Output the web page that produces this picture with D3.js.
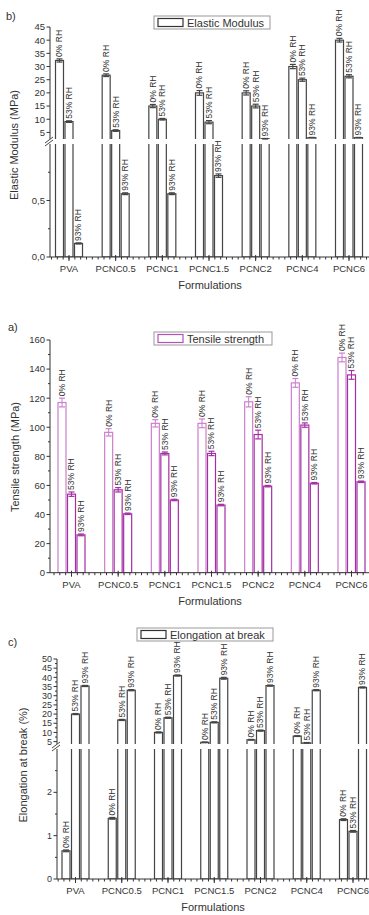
<!DOCTYPE html>
<html>
<head>
<meta charset="utf-8">
<script src="https://cdn.jsdelivr.net/npm/d3@7"></script>
<style>
  body { margin: 0; background: #fff; }
  svg text { font-family: "Liberation Sans", Arial, sans-serif; fill: #333; }
</style>
</head>
<body>
<svg id="chart" width="369" height="915"></svg>
<script>
// categories and series
const categories = ["PVA", "PCNC0.5", "PCNC1", "PCNC1.5", "PCNC2", "PCNC4", "PCNC6"];
const rhLabels = ["0% RH", "53% RH", "93% RH"];

// b) elastic modulus (MPa)
const modulus0 = [32.3, 26.7, 15.0, 20.0, 20.0, 30.0, 40.0];
const modulus53 = [9.1, 5.7, 10.0, 8.9, 15.0, 25.0, 26.3];
const modulus93 = [0.12, 0.56, 0.56, 0.72, 2.6, 3.0, 3.0];
const modulusErr0 = [0.6, 0.5, 0.6, 0.9, 0.8, 0.8, 0.7];
const modulusErr53 = [0.3, 0.3, 0.3, 0.6, 0.7, 0.6, 0.6];
const modulusErr93 = [0.005, 0.008, 0.008, 0.015, 0.1, 0.1, 0.1];

// a) tensile strength (MPa)
const tensile0 = [117, 96.5, 102.7, 102.7, 117.5, 130.5, 148];
const tensile53 = [54, 57, 82, 82, 95, 101.5, 136];
const tensile93 = [26, 40.5, 50, 46.5, 59.5, 61.5, 62.5];
const tensileErr0 = [3, 2.5, 2.5, 3, 3.5, 3, 3];
const tensileErr53 = [1.5, 1.5, 1, 1.5, 3, 1.5, 3];
const tensileErr93 = [0.6, 0.5, 0.5, 0.5, 0.5, 0.5, 0.5];

// c) elongation at break (%)
const elong0 = [0.65, 1.4, 10, 4.6, 6, 8, 1.37];
const elong53 = [20, 16.8, 18, 15.5, 11, 4.3, 1.1];
const elong93 = [35.3, 33, 41, 39.5, 35.5, 33, 34.5];
const elongErr0 = [0.02, 0.02, 0.3, 0.2, 0.2, 0.2, 0.02];
const elongErr53 = [0.3, 0.3, 0.3, 0.3, 0.3, 0.2, 0.02];
const elongErr93 = [0.3, 0.3, 0.3, 0.5, 0.3, 0.3, 0.3];

const svg = d3.select("#chart");
const rightEdge = 369;

function drawPanel(p) {
  const g = svg.append("g");
  const x = d3.scalePoint().domain(categories).range(p.xRange);
  const step = x.step();
  const bw = 8, gap = 1.5;
  const series = p.values.map((vals, s) => vals.map((v, i) => ({
    cat: categories[i], s: s, v: v, e: p.errors[s][i]
  })));
  const rows = series.flat();
  const barX = d => x(d.cat) + (d.s - 1) * (bw + gap) - bw / 2;
  const baseline = p.segments[p.segments.length - 1].range[0];

  p.segments.forEach((seg, k) => {
    const y = d3.scaleLinear().domain(seg.domain).range(seg.range);
    const top = seg.range[1], bottom = seg.range[0];
    const isBottom = k === p.segments.length - 1;
    const clipId = p.id + "clip" + k;
    g.append("clipPath").attr("id", clipId)
      .append("rect").attr("x", p.axisX).attr("y", top)
      .attr("width", rightEdge - p.axisX).attr("height", bottom - top);

    // bars, cut at the ends of the segment
    const barsG = g.append("g").attr("clip-path", "url(#" + clipId + ")");
    barsG.selectAll("rect")
      .data(rows.filter(d => d.v > seg.domain[0]))
      .enter().append("rect")
      .attr("x", barX)
      .attr("y", d => Math.max(y(d.v), top - 5))
      .attr("width", bw)
      .attr("height", d => (isBottom ? bottom : bottom + 5) - Math.max(y(d.v), top - 5))
      .attr("fill", "#fff")
      .attr("stroke", d => p.colors[d.s])
      .attr("stroke-width", p.strokeW);

    // error bars and labels for values that end inside this segment
    const inside = rows.filter(d => d.v >= seg.domain[0] && d.v <= seg.domain[1] * 1.01);
    const eb = g.append("g");
    inside.forEach(d => {
      const cx = barX(d) + bw / 2;
      const y1 = y(d.v + d.e), y2 = y(d.v - d.e);
      eb.append("line").attr("x1", cx).attr("x2", cx).attr("y1", y1).attr("y2", y2)
        .attr("stroke", p.colors[d.s]).attr("stroke-width", 1);
      [y1, y2].forEach(yy => eb.append("line")
        .attr("x1", cx - 3).attr("x2", cx + 3).attr("y1", yy).attr("y2", yy)
        .attr("stroke", p.colors[d.s]).attr("stroke-width", 1.2));
    });
    g.append("g").selectAll("text")
      .data(inside).enter().append("text")
      .attr("transform", d => "translate(" + (barX(d) + bw / 2) + "," + (y(d.v + d.e) - 2) + ") rotate(-90)")
      .attr("dy", "0.35em")
      .attr("font-size", 8.5)
      .text(d => rhLabels[d.s]);

    // y axis for this segment
    const ax = g.append("g");
    ax.append("line").attr("x1", p.axisX).attr("x2", p.axisX)
      .attr("y1", top).attr("y2", bottom).attr("stroke", "#333");
    ax.selectAll(".maj").data(seg.ticks).enter().append("line")
      .attr("x1", p.axisX - 3.5).attr("x2", p.axisX)
      .attr("y1", d => y(d)).attr("y2", d => y(d)).attr("stroke", "#333");
    ax.selectAll(".min").data(seg.minor || []).enter().append("line")
      .attr("x1", p.axisX - 2).attr("x2", p.axisX)
      .attr("y1", d => y(d)).attr("y2", d => y(d)).attr("stroke", "#333");
    ax.selectAll("text").data(seg.ticks).enter().append("text")
      .attr("x", p.axisX - 5).attr("y", d => y(d)).attr("dy", "0.35em")
      .attr("text-anchor", "end").attr("font-size", p.tickSize)
      .text(seg.format || (d => d));
  });

  // break marks
  if (p.segments.length > 1) {
    const yb = (p.segments[0].range[0] + p.segments[1].range[1]) / 2;
    [-1.5, 1.5].forEach(o => g.append("line")
      .attr("x1", p.axisX - 5).attr("x2", p.axisX + 3)
      .attr("y1", yb + o + 3).attr("y2", yb + o - 3)
      .attr("stroke", "#333").attr("stroke-width", 0.9));
  }

  // x axis
  g.append("line").attr("x1", p.axisX).attr("x2", rightEdge)
    .attr("y1", baseline).attr("y2", baseline).attr("stroke", "#333");
  const minor = d3.range(p.xRange[0] - step / 2, rightEdge, step / 8)
    .filter(v => v > p.axisX);
  g.selectAll(".xmin").data(minor).enter().append("line")
    .attr("x1", d => d).attr("x2", d => d)
    .attr("y1", baseline).attr("y2", baseline + 2.5).attr("stroke", "#333");
  g.selectAll(".xmaj").data(categories).enter().append("line")
    .attr("x1", d => x(d)).attr("x2", d => x(d))
    .attr("y1", baseline - 2).attr("y2", baseline + 4).attr("stroke", "#333");
  g.selectAll(".xlab").data(categories).enter().append("text")
    .attr("x", d => x(d)).attr("y", baseline + 15)
    .attr("text-anchor", "middle").attr("font-size", 9.5)
    .text(d => d);
  g.append("text").attr("x", p.titleX).attr("y", baseline + 32)
    .attr("text-anchor", "middle").attr("font-size", 11)
    .text("Formulations");

  // y title
  g.append("text")
    .attr("transform", "translate(" + p.yTitle[0] + "," + p.yTitle[1] + ") rotate(-90)")
    .attr("text-anchor", "middle").attr("font-size", 11)
    .text(p.yLabel);

  // panel letter
  g.append("text").attr("x", p.letter[0]).attr("y", p.letter[1])
    .attr("font-size", 11).text(p.letterText);

  // legend
  const lg = g.append("g");
  lg.append("rect").attr("x", p.legend[0]).attr("y", p.legend[1])
    .attr("width", p.legend[2]).attr("height", 13)
    .attr("fill", "#fff").attr("stroke", "#999").attr("stroke-width", 1);
  lg.append("rect").attr("x", p.legend[0] + 4).attr("y", p.legend[1] + 2.5)
    .attr("width", 25).attr("height", 8)
    .attr("fill", "#fff").attr("stroke", p.legendColor).attr("stroke-width", 1.2);
  lg.append("text").attr("x", p.legend[0] + 33).attr("y", p.legend[1] + 10.5)
    .attr("font-size", 11).text(p.legendText);
}

const comma = d => d3.format(".1f")(d).replace(".", ",");

drawPanel({
  id: "b", letterText: "b)", letter: [6, 20],
  axisX: 50, xRange: [69, 349], titleX: 210,
  values: [modulus0, modulus53, modulus93],
  errors: [modulusErr0, modulusErr53, modulusErr93],
  colors: ["#444", "#444", "#444"], legendColor: "#333", strokeW: 1.2,
  tickSize: 9.5,
  segments: [
    { domain: [2.5, 45], range: [139, 27], ticks: d3.range(5, 46, 5) },
    { domain: [0, 1], range: [257, 144], ticks: [0, 0.5], minor: [0.25, 0.75], format: comma }
  ],
  yLabel: "Elastic Modulus (MPa)", yTitle: [18, 145],
  legend: [154, 16, 116], legendText: "Elastic Modulus"
});

drawPanel({
  id: "a", letterText: "a)", letter: [8, 331],
  axisX: 50, xRange: [71.5, 351.5], titleX: 210,
  values: [tensile0, tensile53, tensile93],
  errors: [tensileErr0, tensileErr53, tensileErr93],
  colors: ["#cc7fcc", "#a42ea4", "#a42ea4"], legendColor: "#b64fb6", strokeW: 1.2,
  tickSize: 9.5,
  segments: [
    { domain: [0, 160], range: [572.7, 340], ticks: d3.range(0, 161, 20), minor: d3.range(10, 160, 20) }
  ],
  yLabel: "Tensile strength (MPa)", yTitle: [19, 457],
  legend: [154, 332, 118], legendText: "Tensile strength"
});

drawPanel({
  id: "c", letterText: "c)", letter: [8, 646],
  axisX: 57, xRange: [75.5, 353], titleX: 213,
  values: [elong0, elong53, elong93],
  errors: [elongErr0, elongErr53, elongErr93],
  colors: ["#444", "#444", "#444"], legendColor: "#333", strokeW: 1.2,
  tickSize: 9,
  segments: [
    { domain: [3.7, 50], range: [744, 659], ticks: d3.range(5, 51, 5), minor: d3.range(7.5, 50, 5) },
    { domain: [0, 3], range: [879, 749], ticks: [0, 1, 2], minor: [0.5, 1.5, 2.5] }
  ],
  yLabel: "Elongation at break (%)", yTitle: [27, 765],
  legend: [137, 628, 136], legendText: "Elongation at break"
});
</script>
</body>
</html>
